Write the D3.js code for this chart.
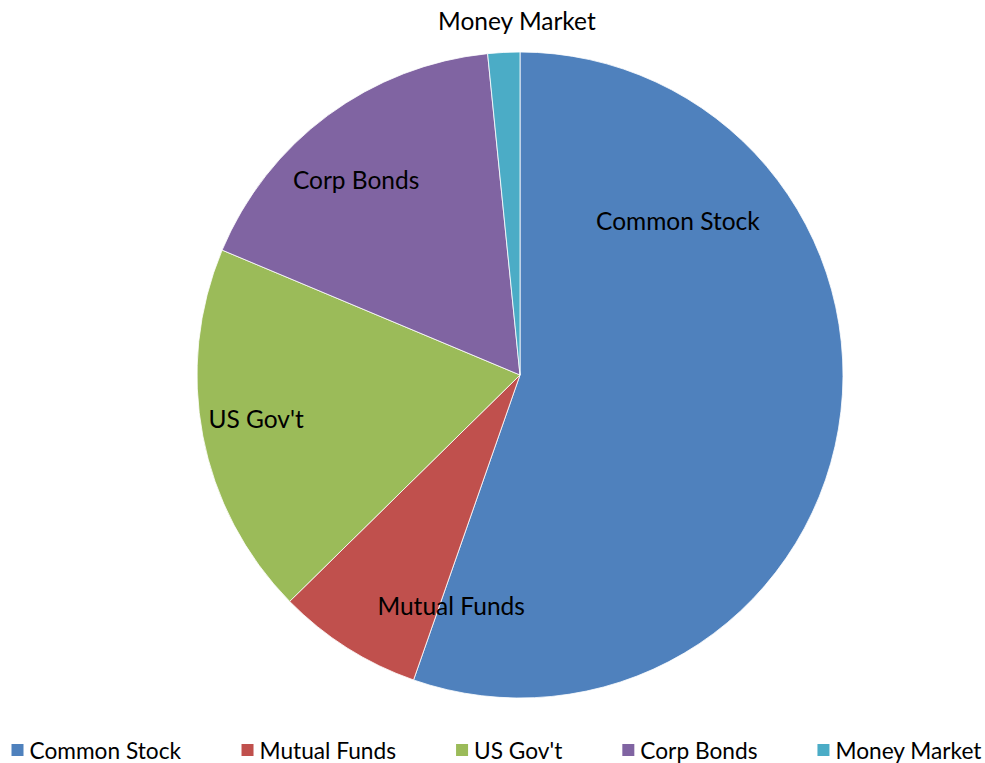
<!DOCTYPE html>
<html>
<head>
<meta charset="utf-8">
<script src="https://cdn.jsdelivr.net/npm/d3@7"></script>
<style>
  html, body { margin: 0; padding: 0; background: #fff; }
  svg { display: block; font-family: Lato, "Liberation Sans", sans-serif; }
</style>
</head>
<body>
<svg id="chart" width="985" height="763"></svg>
<script>
// ---- data ----
const categories = ["Common Stock", "Mutual Funds", "US Gov't", "Corp Bonds", "Money Market"];
const values = [55.4, 7.3, 18.7, 17.1, 1.6];
const colors = ["#4F81BD", "#C0504D", "#9BBB59", "#8064A2", "#4BACC6"];
// label placement (angle in degrees clockwise from top, radius as fraction of pie radius)
const labelAngles = [45.7, 196.6, 260.7, 320.1, 359.5];
const labelRadii = [0.683, 0.746, 0.828, 0.791, 1.099];

// ---- layout ----
const svg = d3.select("#chart");
const cx = 520, cy = 375, R = 323;

const pie = d3.pie().sort(null).value(d => d.value);
const arc = d3.arc().innerRadius(0).outerRadius(R);
const data = categories.map((c, i) => ({ name: c, value: values[i], color: colors[i] }));

const g = svg.append("g").attr("transform", `translate(${cx},${cy})`);
g.selectAll("path.slice")
  .data(pie(data))
  .join("path")
  .attr("class", "slice")
  .attr("d", arc)
  .attr("fill", d => d.data.color)
  .attr("stroke", "#ffffff")
  .attr("stroke-width", 0.8);

g.selectAll("text.lbl")
  .data(data)
  .join("text")
  .attr("class", "lbl")
  .attr("x", (d, i) => Math.sin(labelAngles[i] * Math.PI / 180) * labelRadii[i] * R)
  .attr("y", (d, i) => -Math.cos(labelAngles[i] * Math.PI / 180) * labelRadii[i] * R)
  .attr("text-anchor", "middle")
  .attr("dominant-baseline", "central")
  .attr("font-size", 24.5)
  .attr("fill", "#000")
  .text(d => d.name);

// ---- legend ----
const legend = svg.append("g");
const ly = 750, sq = 12, gapSq = 6, gapItem = 60;
const items = legend.selectAll("g.item").data(data).join("g").attr("class", "item");
items.append("rect")
  .attr("width", sq).attr("height", sq)
  .attr("y", ly - sq / 2)
  .attr("fill", d => d.color);
items.append("text")
  .attr("x", sq + gapSq)
  .attr("y", ly)
  .attr("dominant-baseline", "central")
  .attr("font-size", 22.7)
  .attr("fill", "#000")
  .text(d => d.name);
let widths = [];
items.each(function () { widths.push(this.getBBox().width); });
const total = d3.sum(widths) + gapItem * (widths.length - 1);
let x0 = (985 - total) / 2 + 4;
items.attr("transform", (d, i) => {
  const t = `translate(${x0},0)`;
  x0 += widths[i] + gapItem;
  return t;
});
</script>
</body>
</html>
